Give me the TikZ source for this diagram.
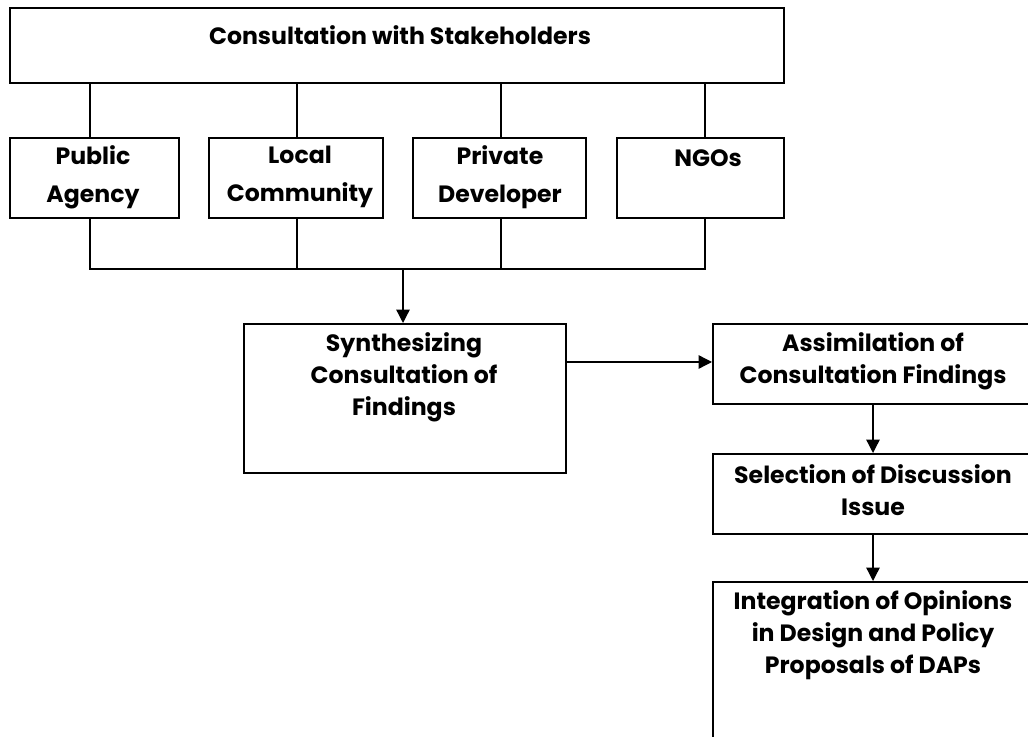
\documentclass[tikz,border=0pt]{standalone}
\usepackage{fontspec}
\setmainfont{Poppins}[UprightFont=* Bold,BoldFont=* Bold]
\usetikzlibrary{arrows.meta}
\begin{document}
\begin{tikzpicture}[x=0.75pt,y=-0.75pt,
  box/.style={draw,line width=1.6pt,anchor=north west,inner sep=0pt},
  lbl/.style={align=center,font=\fontsize{17.7}{24}\selectfont,inner sep=0pt},
  lblw/.style={align=center,font=\fontsize{17.7}{28.5}\selectfont,inner sep=0pt},
  conn/.style={line width=1.6pt},
  arr/.style={line width=1pt,-{Triangle[length=10pt,width=10pt]}}]
\useasboundingbox (0,0) rectangle (1028,737);
\clip (0,0) rectangle (1028,737);
% top box
\node[box,minimum width=774*0.75pt,minimum height=75*0.75pt] (top) at (9,7) {};
\node[lbl] (toptxt) at (400,35) {Consultation with Stakeholders};
% stakeholder boxes
\node[box,minimum width=169*0.75pt,minimum height=80*0.75pt] (pub) at (9,137) {};
\node[box,minimum width=174*0.75pt,minimum height=80*0.75pt] (loc) at (208,137) {};
\node[box,minimum width=173*0.75pt,minimum height=80*0.75pt] (pri) at (412,137) {};
\node[box,minimum width=167*0.75pt,minimum height=80*0.75pt] (ngo) at (616,137) {};
\node[lblw] (pubtxt) at (93,177) {Public\\Agency};
\node[lblw] (loctxt) at (300,177) {Local\\Community};
\node[lblw] (pritxt) at (500,177) {Private\\Developer};
\node[lblw] (ngotxt) at (708,158) {NGOs};
% connector columns
\coordinate (c1) at (90,269);
\coordinate (c2) at (297,269);
\coordinate (c3) at (501,269);
\coordinate (c4) at (705,269);
\coordinate (cm) at (403,269);
\draw[conn] (top.south -| c1) -- (pub.north -| c1);
\draw[conn] (top.south -| c2) -- (loc.north -| c2);
\draw[conn] (top.south -| c3) -- (pri.north -| c3);
\draw[conn] (top.south -| c4) -- (ngo.north -| c4);
\draw[conn] (pub.south -| c1) -- (c1) -- (c4) -- (ngo.south -| c4);
\draw[conn] (loc.south -| c2) -- (c2);
\draw[conn] (pri.south -| c3) -- (c3);
% synthesizing
\node[box,minimum width=322*0.75pt,minimum height=149*0.75pt] (syn) at (243,323) {};
\node[lbl] (syntxt) at (404,377) {Synthesizing\\Consultation of\\Findings};
\draw[arr] (cm) -- (syn.north -| cm);
% right column
\node[box,minimum width=322*0.75pt,minimum height=80*0.75pt] (asm) at (712,323) {};
\node[lbl] (asmtxt) at (873,361) {Assimilation of\\Consultation Findings};
\node[box,minimum width=322*0.75pt,minimum height=80*0.75pt] (sel) at (712,453) {};
\node[lbl] (seltxt) at (873,490) {Selection of Discussion\\Issue};
\node[box,minimum width=322*0.75pt,minimum height=200*0.75pt] (int) at (712,581) {};
\node[lbl] (inttxt) at (873,635) {Integration of Opinions\\in Design and Policy\\Proposals of DAPs};
\coordinate (s1) at (565,362);
\draw[arr] (s1) -- (s1 -| asm.west);
\coordinate (x1) at (873,0);
\draw[arr] (asm.south -| x1) -- (sel.north -| x1);
\draw[arr] (sel.south -| x1) -- (int.north -| x1);
\end{tikzpicture}
\end{document}
